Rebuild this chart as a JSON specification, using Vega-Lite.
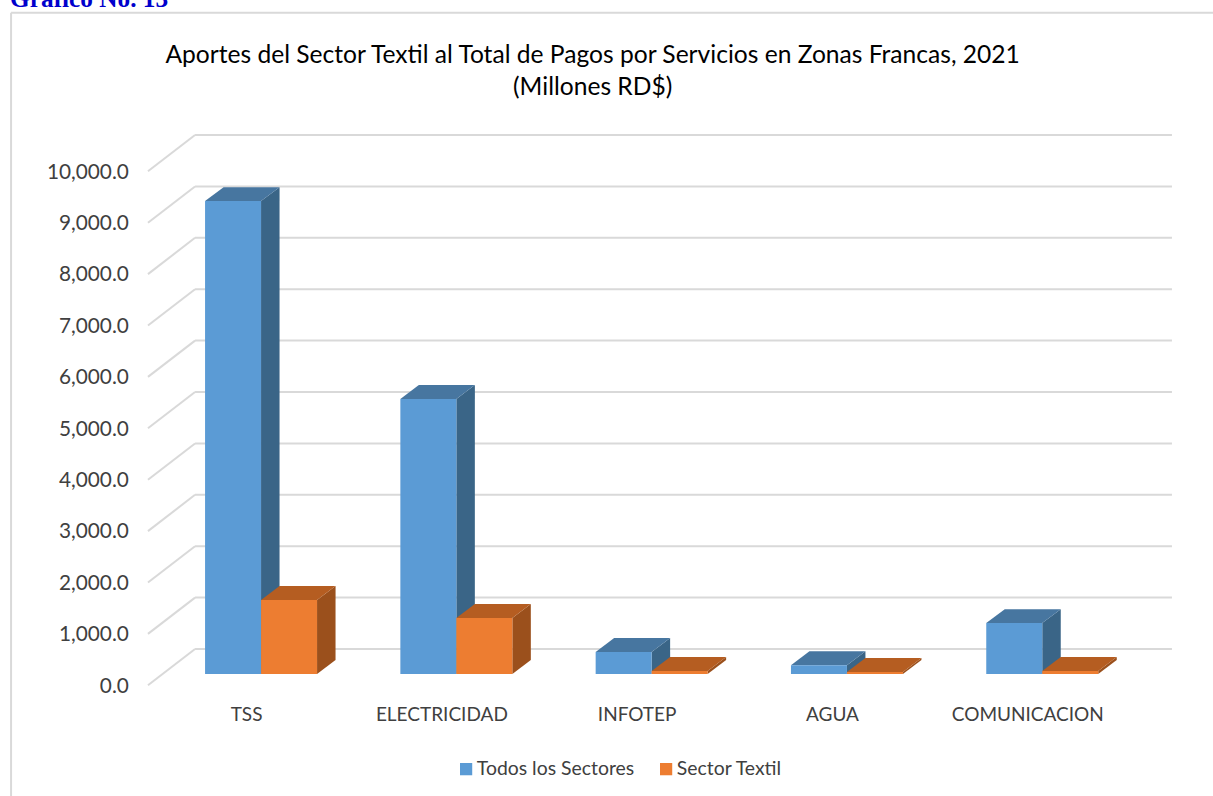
{
"$schema":"https://vega.github.io/schema/vega-lite/v6.json",
"autosize":{"type":"none"},
"width":976.5,"height":514,
"padding":{"left":163.4,"top":160,"right":73.1,"bottom":122},
"background":"white",
"config":{"view":{"stroke":null},"font":"Lato"},
"title":{"text":["Aportes del Sector Textil al Total de Pagos por Servicios en Zonas Francas, 2021","(Millones RD$)"],"anchor":"middle","frame":"group","dx":-59,"offset":-114,"fontSize":24.6,"fontWeight":"normal","color":"#000000","lineHeight":32,"font":"Lato"},
"datasets":{
"bars":[
{"categoria":"TSS","serie":"Todos los Sectores","valor":9200},
{"categoria":"ELECTRICIDAD","serie":"Todos los Sectores","valor":5350},
{"categoria":"INFOTEP","serie":"Todos los Sectores","valor":430},
{"categoria":"AGUA","serie":"Todos los Sectores","valor":170},
{"categoria":"COMUNICACION","serie":"Todos los Sectores","valor":990},
{"categoria":"TSS","serie":"Sector Textil","valor":1440},
{"categoria":"ELECTRICIDAD","serie":"Sector Textil","valor":1090},
{"categoria":"INFOTEP","serie":"Sector Textil","valor":60},
{"categoria":"AGUA","serie":"Sector Textil","valor":40},
{"categoria":"COMUNICACION","serie":"Sector Textil","valor":60}
],
"ticks":[{"v":0},{"v":1000},{"v":2000},{"v":3000},{"v":4000},{"v":5000},{"v":6000},{"v":7000},{"v":8000},{"v":9000},{"v":10000}]
},
"encoding":{
"x":{"field":"px","type":"quantitative","scale":{"domain":[-0.5,4.5],"nice":false,"zero":false},
"axis":{"title":null,"grid":false,"domain":false,"ticks":false,"values":[0,1,2,3,4],"labelExpr":"['TSS','ELECTRICIDAD','INFOTEP','AGUA','COMUNICACION'][datum.value]","labelOffset":-15,"labelPadding":31,"labelFontSize":19,"labelColor":"#404040","labelFont":"Lato"}},
"y":{"field":"py","type":"quantitative","scale":{"domain":[0,10000],"nice":false},
"axis":{"title":null,"grid":false,"domain":false,"ticks":false,"values":[0,1000,2000,3000,4000,5000,6000,7000,8000,9000,10000],"format":",.1f","labelOffset":12,"labelPadding":35,"labelFontSize":20.8,"labelColor":"#404040","labelFont":"Lato"}}
},
"layer":[
{"data":{"name":"ticks"},
 "transform":[{"calculate":"-0.338","as":"px"},{"calculate":"4.664","as":"px2"},{"calculate":"datum.v+486","as":"py"},{"calculate":"datum.v+486","as":"py2"}],
 "mark":{"type":"rule","stroke":"#d9d9d9","strokeWidth":2,"clip":false},
 "encoding":{"x2":{"field":"px2"},"y2":{"field":"py2"}}},
{"data":{"name":"ticks"},
 "transform":[{"calculate":"-0.579","as":"px"},{"calculate":"-0.338","as":"px2"},{"calculate":"datum.v-220","as":"py"},{"calculate":"datum.v+486","as":"py2"}],
 "mark":{"type":"rule","stroke":"#d9d9d9","strokeWidth":2},
 "encoding":{"x2":{"field":"px2"},"y2":{"field":"py2"}}},
{"data":{"values":[{"borde":"izq"}]},
 "transform":[{"calculate":"-1.28","as":"px"},{"calculate":"12866","as":"py"},{"calculate":"-2500","as":"py2"}],
 "mark":{"type":"rule","stroke":"#d9d9d9","strokeWidth":2},
 "encoding":{"y2":{"field":"py2"}}},
{"data":{"values":[{"borde":"sup"}]},
 "transform":[{"calculate":"-1.28","as":"px"},{"calculate":"5.6","as":"px2"},{"calculate":"12866","as":"py"}],
 "mark":{"type":"rule","stroke":"#d9d9d9","strokeWidth":2},
 "encoding":{"x2":{"field":"px2"}}},
{"data":{"values":[{"rotulo":"Gráfico No. 13"}]},
 "transform":[{"calculate":"-1.285","as":"px"},{"calculate":"12977","as":"py"}],
 "mark":{"type":"text","align":"left","baseline":"alphabetic","font":"Liberation Serif","fontWeight":"bold","fontSize":25.3,"color":"#0000cc"},
 "encoding":{"text":{"field":"rotulo"}}},

{"data":{"name":"bars"},
 "transform":[{"filter":"datum.serie==='Todos los Sectores'"},
 {"calculate":"indexof(['TSS','ELECTRICIDAD','INFOTEP','AGUA','COMUNICACION'],datum.categoria)","as":"i"},
 {"calculate":"[datum.i,datum.i+0.0947]","as":"px"},
 {"calculate":"[datum.valor,datum.valor+272]","as":"py"},
 {"calculate":"[0,272]","as":"py2"},
 {"flatten":["px","py","py2"]}],
 "mark":{"type":"area","color":"#3A6587","opacity":1},
 "encoding":{"y2":{"field":"py2"},"detail":{"field":"categoria"}}},
{"data":{"name":"bars"},
 "transform":[{"filter":"datum.serie==='Todos los Sectores'"},
 {"calculate":"indexof(['TSS','ELECTRICIDAD','INFOTEP','AGUA','COMUNICACION'],datum.categoria)","as":"i"},
 {"calculate":"[datum.i-0.2867,datum.i-0.2867+0.0947]","as":"px"},
 {"calculate":"[datum.i,datum.i+0.0947]","as":"px2"},
 {"calculate":"[datum.valor,datum.valor+272]","as":"py"},
 {"flatten":["px","px2","py"]}],
 "mark":{"type":"area","orient":"horizontal","color":"#4776A0","opacity":1},
 "encoding":{"x2":{"field":"px2"},"detail":{"field":"categoria"}}},
{"data":{"name":"bars"},
 "transform":[{"filter":"datum.serie==='Todos los Sectores'"},
 {"calculate":"indexof(['TSS','ELECTRICIDAD','INFOTEP','AGUA','COMUNICACION'],datum.categoria)","as":"i"},
 {"calculate":"datum.i-0.2867","as":"px"},{"calculate":"datum.i","as":"px2"},{"calculate":"datum.valor","as":"py"},{"calculate":"0","as":"py2"}],
 "mark":{"type":"rect"},
 "encoding":{"x2":{"field":"px2"},"y2":{"field":"py2"},
 "color":{"field":"serie","type":"nominal","scale":{"domain":["Todos los Sectores","Sector Textil"],"range":["#5B9BD5","#ED7D31"]},
 "legend":{"title":null,"orient":"none","direction":"horizontal","legendX":293,"legendY":599,"symbolType":"square","symbolSize":150,"symbolStrokeWidth":0,"labelFontSize":19.4,"labelColor":"#404040","labelFont":"Lato","columnPadding":22,"labelOffset":1,"symbolOpacity":1}}}},

{"data":{"name":"bars"},
 "transform":[{"filter":"datum.serie==='Sector Textil'"},
 {"calculate":"indexof(['TSS','ELECTRICIDAD','INFOTEP','AGUA','COMUNICACION'],datum.categoria)","as":"i"},
 {"calculate":"[datum.i+0.2867,datum.i+0.2867+0.0947]","as":"px"},
 {"calculate":"[datum.valor,datum.valor+272]","as":"py"},
 {"calculate":"[0,272]","as":"py2"},
 {"flatten":["px","py","py2"]}],
 "mark":{"type":"area","color":"#9B501C","opacity":1},
 "encoding":{"y2":{"field":"py2"},"detail":{"field":"categoria"}}},
{"data":{"name":"bars"},
 "transform":[{"filter":"datum.serie==='Sector Textil'"},
 {"calculate":"indexof(['TSS','ELECTRICIDAD','INFOTEP','AGUA','COMUNICACION'],datum.categoria)","as":"i"},
 {"calculate":"[datum.i,datum.i+0.0947]","as":"px"},
 {"calculate":"[datum.i+0.2867,datum.i+0.2867+0.0947]","as":"px2"},
 {"calculate":"[datum.valor,datum.valor+272]","as":"py"},
 {"flatten":["px","px2","py"]}],
 "mark":{"type":"area","orient":"horizontal","color":"#B55D21","opacity":1},
 "encoding":{"x2":{"field":"px2"},"detail":{"field":"categoria"}}},
{"data":{"name":"bars"},
 "transform":[{"filter":"datum.serie==='Sector Textil'"},
 {"calculate":"indexof(['TSS','ELECTRICIDAD','INFOTEP','AGUA','COMUNICACION'],datum.categoria)","as":"i"},
 {"calculate":"datum.i","as":"px"},{"calculate":"datum.i+0.2867","as":"px2"},{"calculate":"datum.valor","as":"py"},{"calculate":"0","as":"py2"}],
 "mark":{"type":"rect"},
 "encoding":{"x2":{"field":"px2"},"y2":{"field":"py2"},
 "color":{"field":"serie","type":"nominal","scale":{"domain":["Todos los Sectores","Sector Textil"],"range":["#5B9BD5","#ED7D31"]}}}}
]
}
